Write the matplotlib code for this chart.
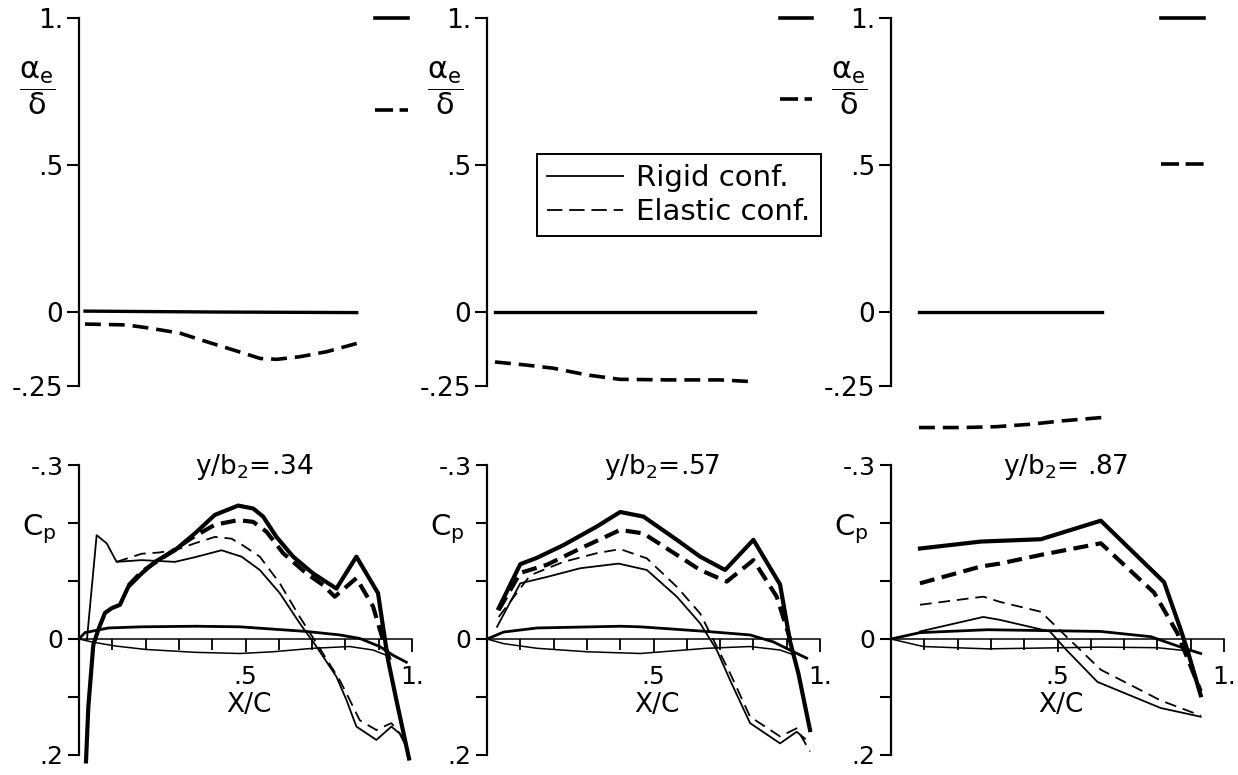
import matplotlib
matplotlib.use("Agg")
import matplotlib.pyplot as plt
from matplotlib.lines import Line2D
from matplotlib.ticker import FixedLocator

plt.rcParams["font.family"] = ["DejaVu Sans"]
plt.rcParams["mathtext.fontset"] = "dejavusans"

# ---- top row: alpha_e / delta along the chord ----
top_x_rigid = [[0.018, 0.40, 0.834], [0.024, 0.40, 0.805], [0.084, 0.633]]
top_rigid = [[0.003, 0.0, -0.002], [0.0, 0.0, 0.0], [0.0, 0.0]]
top_x_elastic = [
    [0.018, 0.143, 0.213, 0.303, 0.383, 0.463, 0.544, 0.594, 0.664, 0.744, 0.834],
    [0.024, 0.114, 0.198, 0.300, 0.399, 0.550, 0.700, 0.799],
    [0.084, 0.216, 0.317, 0.417, 0.517, 0.633],
]
top_elastic = [
    [-0.041, -0.044, -0.055, -0.072, -0.101, -0.129, -0.158, -0.161, -0.152, -0.135, -0.107],
    [-0.170, -0.180, -0.191, -0.214, -0.229, -0.231, -0.231, -0.237],
    [-0.393, -0.393, -0.390, -0.382, -0.370, -0.359],
]
# control surface values (short bars on the right)
flap_x = [[0.889, 0.988], [0.880, 0.976], [0.810, 0.940]]
flap_rigid = [1.0, 1.0, 1.0]
flap_elastic = [0.687, 0.723, 0.502]

# ---- bottom row: Cp along the chord ----
stations = [".34", ".57", " .87"]

x_thick_rigid = [
    [0.021, 0.028, 0.043, 0.058, 0.078, 0.098, 0.123, 0.148, 0.188, 0.228, 0.288, 0.348, 0.408,
     0.478, 0.523, 0.553, 0.593, 0.643, 0.703, 0.773, 0.833, 0.898, 0.913, 0.928, 0.953, 0.991],
    [0.035, 0.10, 0.15, 0.23, 0.33, 0.40, 0.47, 0.57, 0.64, 0.715, 0.80, 0.88, 0.91, 0.935, 0.97],
    [0.087, 0.27, 0.45, 0.63, 0.82, 0.87, 0.89, 0.93],
]
cp_thick_rigid = [
    [0.211, 0.117, 0.010, -0.016, -0.045, -0.053, -0.059, -0.090, -0.113, -0.133, -0.153, -0.182, -0.214,
     -0.230, -0.225, -0.211, -0.176, -0.142, -0.113, -0.087, -0.142, -0.079, -0.021, 0.036, 0.105, 0.206],
    [-0.053, -0.129, -0.140, -0.162, -0.194, -0.219, -0.211, -0.171, -0.142, -0.119, -0.171, -0.094,
     0.004, 0.059, 0.157],
    [-0.156, -0.168, -0.172, -0.204, -0.098, -0.016, 0.019, 0.097],
]
x_thick_elastic = [
    [0.148, 0.188, 0.248, 0.338, 0.408, 0.478, 0.523, 0.563, 0.613, 0.683, 0.733, 0.768, 0.833, 0.883,
     0.913, 0.933],
    [0.035, 0.10, 0.18, 0.28, 0.40, 0.47, 0.57, 0.64, 0.72, 0.80, 0.87, 0.91],
    [0.087, 0.27, 0.327, 0.45, 0.63, 0.79, 0.86, 0.93],
]
cp_thick_elastic = [
    [-0.092, -0.116, -0.139, -0.174, -0.197, -0.205, -0.202, -0.185, -0.148, -0.113, -0.093, -0.073,
     -0.105, -0.056, 0.002, 0.036],
    [-0.050, -0.114, -0.128, -0.156, -0.188, -0.182, -0.145, -0.119, -0.099, -0.136, -0.073, 0.0],
    [-0.096, -0.125, -0.130, -0.145, -0.165, -0.080, -0.010, 0.090],
]
x_thin_rigid = [
    [0.024, 0.053, 0.083, 0.113, 0.188, 0.288, 0.348, 0.428, 0.488, 0.543, 0.603, 0.663, 0.713, 0.773,
     0.803, 0.833, 0.893, 0.938, 0.963, 0.983],
    [0.03, 0.10, 0.18, 0.28, 0.395, 0.48, 0.57, 0.64, 0.69, 0.73, 0.79, 0.88, 0.93, 0.955],
    [0.087, 0.277, 0.327, 0.477, 0.527, 0.62, 0.81, 0.93],
]
cp_thin_rigid = [
    [0.0, -0.179, -0.165, -0.133, -0.136, -0.133, -0.141, -0.153, -0.142, -0.119, -0.079, -0.027, 0.013,
     0.065, 0.105, 0.151, 0.174, 0.151, 0.163, 0.186],
    [-0.021, -0.096, -0.107, -0.122, -0.130, -0.119, -0.073, -0.027, 0.019, 0.071, 0.145, 0.180, 0.160,
     0.172],
    [-0.013, -0.038, -0.033, -0.013, 0.019, 0.074, 0.119, 0.134],
]
x_thin_elastic = [
    [0.113, 0.188, 0.238, 0.288, 0.348, 0.408, 0.458, 0.488, 0.543, 0.603, 0.663, 0.713, 0.783, 0.813,
     0.843, 0.893, 0.938, 0.983],
    [0.035, 0.13, 0.23, 0.33, 0.40, 0.48, 0.57, 0.64, 0.69, 0.73, 0.79, 0.88, 0.93, 0.97],
    [0.087, 0.277, 0.327, 0.45, 0.527, 0.63, 0.81, 0.93],
]
cp_thin_elastic = [
    [-0.133, -0.147, -0.149, -0.153, -0.165, -0.176, -0.173, -0.163, -0.142, -0.096, -0.038, 0.007, 0.071,
     0.105, 0.140, 0.157, 0.145, 0.177],
    [-0.038, -0.110, -0.133, -0.148, -0.155, -0.139, -0.090, -0.044, 0.013, 0.059, 0.134, 0.168, 0.154,
     0.194],
    [-0.059, -0.073, -0.064, -0.047, -0.004, 0.053, 0.106, 0.132],
]

# airfoil section drawn on the Cp=0 line
foil_x_up = [
    [0, 0.018, 0.088, 0.188, 0.35, 0.483, 0.683, 0.783, 0.843, 0.903, 0.943, 0.983],
    [0, 0.05, 0.15, 0.40, 0.46, 0.66, 0.79, 0.86, 0.92, 0.96],
    [0, 0.087, 0.29, 0.63, 0.78, 0.88, 0.93],
]
foil_up = [
    [0, -0.011, -0.019, -0.021, -0.022, -0.021, -0.013, -0.007, -0.001, 0.013, 0.028, 0.040],
    [0, -0.012, -0.019, -0.022, -0.021, -0.013, -0.007, 0.005, 0.022, 0.033],
    [0, -0.011, -0.016, -0.013, -0.004, 0.016, 0.025],
]
foil_x_lo = [
    [0, 0.038, 0.108, 0.20, 0.35, 0.483, 0.583, 0.703, 0.813, 0.883, 0.923],
    [0, 0.05, 0.15, 0.30, 0.46, 0.66, 0.79, 0.88, 0.92],
    [0, 0.097, 0.29, 0.63, 0.80, 0.90],
]
foil_lo = [
    [0, 0.005, 0.012, 0.018, 0.023, 0.025, 0.022, 0.016, 0.013, 0.019, 0.028],
    [0, 0.008, 0.016, 0.022, 0.025, 0.016, 0.013, 0.019, 0.027],
    [0, 0.013, 0.017, 0.014, 0.015, 0.021],
]

# ---- layout (pixels) ----
W, H = 1238, 775
fig = plt.figure(figsize=(W / 100, H / 100), dpi=100)
axis_left = [79, 487, 891]
xscale = 333
xmax = 1.06


def px_axes(left, top, width, height):
    ax = fig.add_axes([left / W, 1 - (top + height) / H, width / W, height / H])
    ax.set_facecolor("none")
    return ax


FS = 18
for i in range(3):
    # top panel
    ax = px_axes(axis_left[i], 312 - 1.01 * 294, xmax * xscale, 1.43 * 294)
    ax.set_xlim(0, xmax)
    ax.set_ylim(-0.42, 1.01)
    for s in ["top", "right", "bottom"]:
        ax.spines[s].set_visible(False)
    ax.spines["left"].set_bounds(-0.25, 1.0)
    ax.spines["left"].set_linewidth(1.6)
    ax.set_xticks([])
    ax.set_yticks([-0.25, 0, 0.5, 1.0], ["-.25", "0", ".5", "1."])
    ax.tick_params(axis="y", length=8.5, width=1.5, pad=3, labelsize=FS + 1)
    ax.plot(top_x_rigid[i], top_rigid[i], color="black", lw=2.4)
    ax.plot(top_x_elastic[i], top_elastic[i], color="black", lw=2.6, dashes=(4.4, 2.2))
    ax.plot(flap_x[i], [flap_rigid[i]] * 2, color="black", lw=2.6)
    ax.plot(flap_x[i], [flap_elastic[i]] * 2, color="black", lw=2.6, dashes=(5.0, 1.8))
    ax.text(-0.125, 0.762, r"$\dfrac{\mathregular{\alpha_e}}{\mathregular{\delta}}$", fontsize=FS + 4,
            ha="center", va="center")

    # bottom panel
    bx = px_axes(axis_left[i], 639 - 0.31 * 580, xmax * xscale, 0.53 * 580)
    bx.set_xlim(0, xmax)
    bx.set_ylim(0.22, -0.31)
    for s in ["top", "right"]:
        bx.spines[s].set_visible(False)
    bx.spines["left"].set_bounds(-0.3, 0.2)
    bx.spines["left"].set_linewidth(1.6)
    bx.spines["bottom"].set_position(("data", 0))
    bx.spines["bottom"].set_bounds(0, 1.0)
    bx.spines["bottom"].set_linewidth(1.1)
    bx.set_yticks([-0.3, -0.2, -0.1, 0, 0.1, 0.2], ["-.3", "", "", "0", "", ".2"])
    bx.tick_params(axis="y", length=8, width=1.5, pad=3, labelsize=FS)
    bx.set_xticks([0.5, 1.0], [".5", "1."])
    bx.xaxis.set_minor_locator(FixedLocator([0.1, 0.2, 0.3, 0.4, 0.6, 0.7, 0.8, 0.9]))
    bx.tick_params(axis="x", which="major", direction="out", length=9, width=1.3, pad=10, labelsize=FS)
    bx.tick_params(axis="x", which="minor", direction="out", length=8, width=1.3)
    bx.set_xlabel("X/C", fontsize=FS + 1)
    bx.xaxis.set_label_coords(0.51 / xmax, (0.22 - 0.092) / 0.53)

    bx.plot(foil_x_up[i], foil_up[i], color="black", lw=2.0)
    bx.plot(foil_x_lo[i], foil_lo[i], color="black", lw=1.1)
    bx.plot(x_thin_rigid[i], cp_thin_rigid[i], color="black", lw=1.3)
    bx.plot(x_thin_elastic[i], cp_thin_elastic[i], color="black", lw=1.3, dashes=(6.5, 3.8))
    bx.plot(x_thick_rigid[i], cp_thick_rigid[i], color="black", lw=3.0)
    bx.plot(x_thick_elastic[i], cp_thick_elastic[i], color="black", lw=3.0, dashes=(3.6, 1.8))

    bx.text(0.525, -0.296, r"y/b$_\mathregular{2}$=" + stations[i], fontsize=FS + 1,
            ha="center", va="center")
    bx.text(-0.12, -0.19, r"C$_\mathregular{p}$", fontsize=FS + 3, ha="center", va="center")

handles = [
    Line2D([], [], color="black", lw=1.3),
    Line2D([], [], color="black", lw=1.3, dashes=(8.5, 3.8)),
]
leg = fig.legend(handles, ["Rigid conf.", "Elastic conf."], loc="upper left",
                 bbox_to_anchor=(537 / W, 1 - 154 / H), borderaxespad=0, fontsize=FS + 3,
                 handlelength=2.6, handletextpad=0.45, borderpad=0.35, labelspacing=0.2,
                 fancybox=False, framealpha=1)
leg.get_frame().set_edgecolor("black")
leg.get_frame().set_linewidth(1.4)

fig.savefig("out.png", dpi=100)
